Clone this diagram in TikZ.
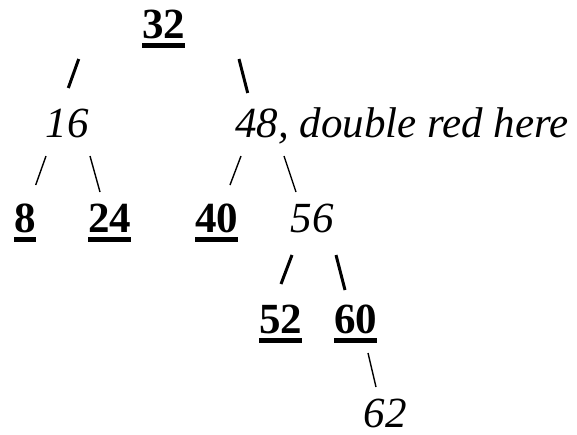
\documentclass[tikz,border=0pt]{standalone}
\usepackage{fontspec}
\setmainfont{Liberation Serif}
\newcommand\ulnum[1]{\setbox0\hbox{\bfseries #1}\rlap{\usebox0}\rule[-9.5pt]{\wd0}{4.5pt}}
\begin{document}
\begin{tikzpicture}[x=1pt,y=-1pt,
  key/.style={inner sep=0pt,anchor=base,font=\fontsize{43}{50}\selectfont},
  redkey/.style={key,font=\fontsize{43}{50}\selectfont\itshape},
  thickedge/.style={line width=3pt},
  thinedge/.style={line width=1.4pt}]
\useasboundingbox (0,0) rectangle (577,434);
% nodes
\node[key] (n32) at (163.5,38) {\ulnum{32}};
\node[redkey] (n16) at (67,137) {16};
\node[redkey,anchor=base west] (n48) at (235,137) {48, double red here};
\node[key] (n8) at (25,232) {\ulnum{8}};
\node[key] (n24) at (109.5,232) {\ulnum{24}};
\node[key] (n40) at (216.5,232) {\ulnum{40}};
\node[redkey] (n56) at (312,232) {56};
\node[key] (n52) at (280.5,333) {\ulnum{52}};
\node[key] (n60) at (355.5,333) {\ulnum{60}};
\node[redkey] (n62) at (385,427) {62};
% connector ends
\coordinate (a1) at (78.7,59);  \coordinate (b1) at (68.3,88);
\coordinate (a2) at (239,59);   \coordinate (b2) at (247.7,93);
\coordinate (a3) at (46,156);   \coordinate (b3) at (35.7,185);
\coordinate (a4) at (90,156);   \coordinate (b4) at (100,192);
\coordinate (a5) at (241,156);  \coordinate (b5) at (230,185);
\coordinate (a6) at (284,156);  \coordinate (b6) at (296,192);
\coordinate (a7) at (292,255);  \coordinate (b7) at (281,284);
\coordinate (a8) at (336,255);  \coordinate (b8) at (345,290);
\coordinate (a9) at (368,353);  \coordinate (b9) at (376,387);
% connectors
\draw[thickedge] (a1) -- (b1);
\draw[thickedge] (a2) -- (b2);
\draw[thinedge] (a3) -- (b3);
\draw[thinedge] (a4) -- (b4);
\draw[thinedge] (a5) -- (b5);
\draw[thinedge] (a6) -- (b6);
\draw[thickedge] (a7) -- (b7);
\draw[thickedge] (a8) -- (b8);
\draw[thinedge] (a9) -- (b9);
\end{tikzpicture}
\end{document}
